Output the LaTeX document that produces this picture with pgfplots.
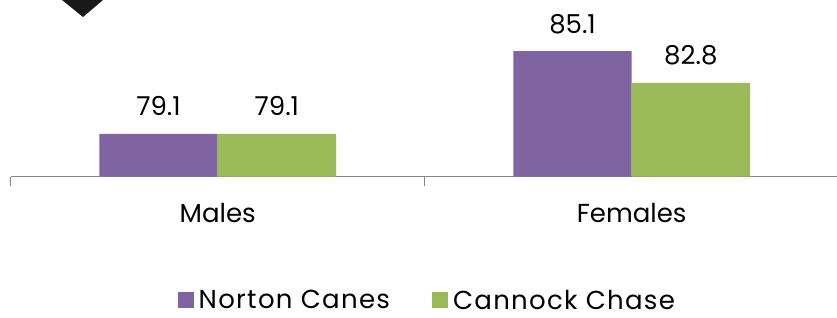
\documentclass[border=0pt]{standalone}
\usepackage{pgfplots}
\pgfplotsset{compat=1.18}
\usepackage{fontspec}
\setmainfont{Poppins}
\definecolor{ncpurple}{HTML}{8064A2}
\definecolor{ccgreen}{HTML}{9BBB59}
\definecolor{axgray}{HTML}{868686}
\begin{document}
\begin{tikzpicture}[x=1pt,y=1pt]
\path[use as bounding box] (0,0) rectangle (837,317);
\fill[black!90] (62,317) -- (103,317) -- (83,300) -- cycle;
\begin{axis}[
  at={(10.7pt,140.3pt)}, anchor=south west,
  scale only axis, width=828pt, height=176.7pt,
  xmin=-0.5, xmax=1.5, ymin=76, ymax=88.8,
  axis x line*=bottom, axis y line=none,
  x axis line style={axgray, line width=1.5pt},
  xtick={0,1}, xticklabels={Males,Females},
  minor xtick={-0.5,0.5,1.5},
  tick align=outside, major tick length=0pt, minor tick length=9pt,
  minor tick style={axgray, line width=1.5pt},
  xticklabel style={anchor=base, inner sep=0pt, yshift=-45.3pt, font=\fontsize{26}{31}\selectfont},
  ybar, bar width=118.3pt,
  clip=false,
  nodes near coords,
  /pgf/number format/assume math mode=true,
  /pgf/number format/.cd, fixed, fixed zerofill, precision=1, /pgfplots/.cd,
  every node near coord/.append style={anchor=base, inner sep=0pt, yshift=18pt, black, font=\fontsize{26}{31}\selectfont},
  legend columns=2,
  legend style={at={(rel axis cs:0.505,0)}, anchor=north, yshift=-113pt, draw=none, fill=none, inner sep=0pt,
    font=\fontsize{26}{31}\selectfont\addfontfeatures{LetterSpace=5},
    nodes={inner xsep=5pt, inner ysep=0pt},
    /tikz/every even column/.append style={column sep=37pt}},
  legend cell align=left,
  legend image code/.code={\fill[#1] (0pt,-8pt) rectangle (16pt,8pt);},
]
\addplot[fill=ncpurple, draw=none, bar shift=-59.15pt] coordinates {(0,79.1) (1,85.1)};
\addplot[fill=ccgreen, draw=none, bar shift=59.15pt] coordinates {(0,79.1) (1,82.8)};
\legend{Norton Canes, Cannock Chase}
\end{axis}
\end{tikzpicture}
\end{document}
